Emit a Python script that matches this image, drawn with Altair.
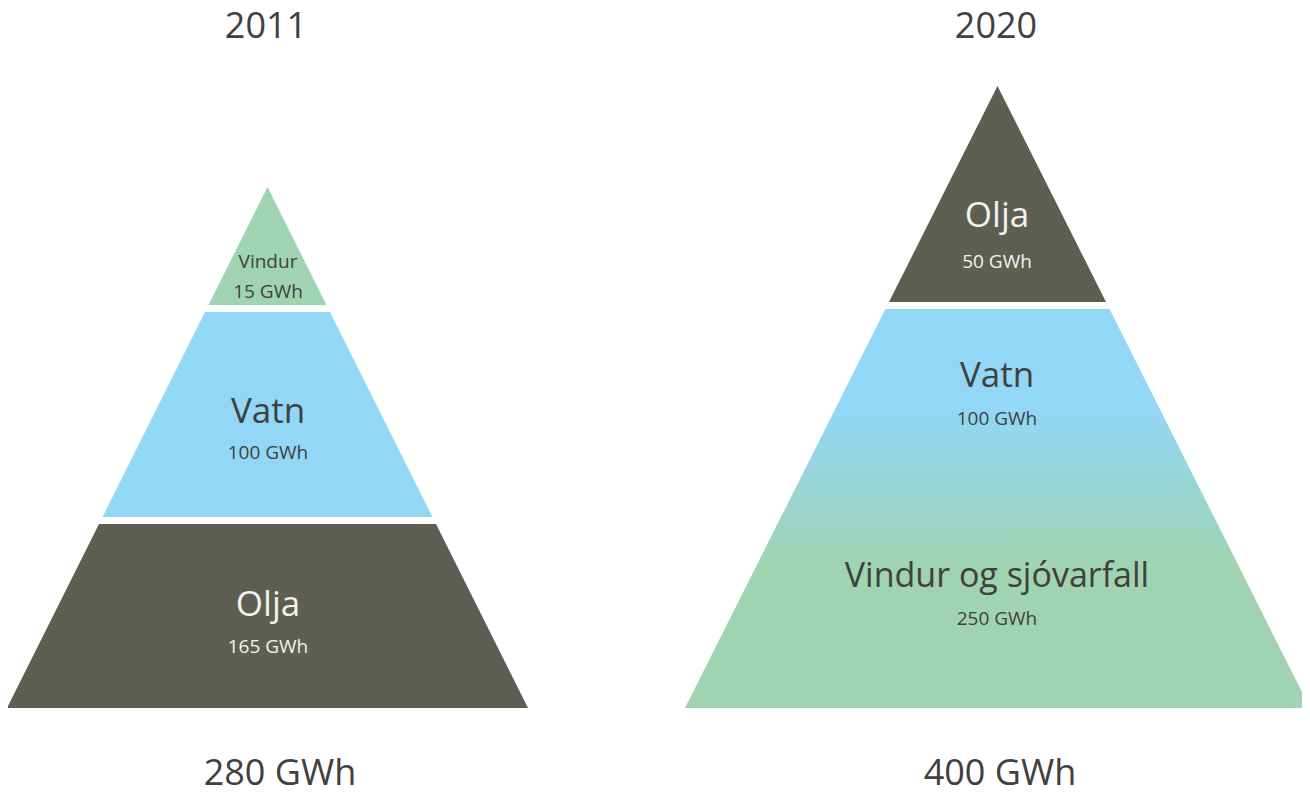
import altair as alt
import pandas as pd

# ------------------------------------------------------------------ data
years = ["2011", "2020"]
totals_gwh = [280, 400]

segments_2011 = ["Vindur", "Vatn", "Olja"]                    # top -> bottom
values_2011 = [15, 100, 165]

segments_2020 = ["Olja", "Vatn", "Vindur og sjóvarfall"]      # top -> bottom
values_2020 = [50, 100, 250]

# ------------------------------------------------------------------ styling / layout
GREEN = "#A0D3AF"
BLUE = "#92D7F5"
DARK = "#5E5E52"
TXT = "#404040"
TXT_LIGHT = "#F2F2F2"
FONT = "Open Sans"

fill_of = {"Vindur": GREEN, "Vatn": BLUE, "Olja": DARK, "Vindur og sjóvarfall": GREEN}
text_of = {"Vindur": TXT, "Vatn": TXT, "Olja": TXT_LIGHT, "Vindur og sjóvarfall": TXT}

W, H = 1294, 778          # plot area (page margin 8px), kept inside the window so the page does not scroll
DOM_X = [8, 8 + W]
DOM_Y = [8, 8 + H]

pyramids = {
    "2011": dict(cx=267.5, top=187, base=708, half=260.5),
    "2020": dict(cx=997.5, top=86, base=708, half=312.5),
}
# drawn bands (top, bottom) per pyramid, with the segments they hold
bands = {
    "2011": [(["Vindur"], 187, 305), (["Vatn"], 312, 517), (["Olja"], 524, 708)],
    "2020": [(["Olja"], 86, 302), (["Vatn", "Vindur og sjóvarfall"], 309, 708)],
}
# label baselines (name, value) and font sizes
label_pos = {
    "2011": {"Vindur": (268, 298, 19, 19), "Vatn": (423, 459, 35, 19), "Olja": (616, 653, 35, 19)},
    "2020": {"Olja": (227, 268, 35, 19), "Vatn": (387, 425, 35, 19),
             "Vindur og sjóvarfall": (587, 625, 34, 19)},
}
title_pos = {"2011": (266, 38, 280, 785), "2020": (996, 38, 1000, 785)}


def edge(p, y):
    d = p["half"] * (y - p["top"]) / (p["base"] - p["top"])
    return p["cx"] - d, p["cx"] + d


# ------------------------------------------------------------------ tables
area_rows, grad_rows = [], []
for yr in years:
    p = pyramids[yr]
    for i, (segs, y0, y1) in enumerate(bands[yr]):
        for yy in (y0, y1):
            xl, xr = edge(p, yy)
            row = dict(band=f"{yr}-{i}", y=yy, xl=xl, xr=xr, fill=fill_of[segs[0]])
            (grad_rows if len(segs) > 1 else area_rows).append(row)
areas_df = pd.DataFrame(area_rows)
grad_df = pd.DataFrame(grad_rows)

text_rows = []
for yr, segs, vals, tot in [("2011", segments_2011, values_2011, totals_gwh[0]),
                            ("2020", segments_2020, values_2020, totals_gwh[1])]:
    cx = 268 if yr == "2011" else 997
    for s, v in zip(segs, vals):
        yn, yv, fsn, fsv = label_pos[yr][s]
        text_rows.append(dict(x=cx, y=yn, t=s, fs=fsn, col=text_of[s]))
        text_rows.append(dict(x=cx, y=yv, t=f"{v} GWh", fs=fsv, col=text_of[s]))
    tx, ty, bx, by = title_pos[yr]
    text_rows.append(dict(x=tx, y=ty, t=yr, fs=36, col=TXT))
    text_rows.append(dict(x=bx, y=by, t=f"{tot} GWh", fs=36, col=TXT))
text_df = pd.DataFrame(text_rows)

xs = alt.Scale(domain=DOM_X, nice=False, zero=False)
ys = alt.Scale(domain=DOM_Y, nice=False, zero=False, reverse=True)

solid = alt.Chart(areas_df).mark_area(orient="horizontal", opacity=1).encode(
    y=alt.Y("y:Q", scale=ys, axis=None),
    x=alt.X("xl:Q", scale=xs, axis=None),
    x2="xr:Q",
    detail="band:N",
    color=alt.Color("fill:N", scale=None),
)

gradient = alt.Gradient(
    gradient="linear",
    stops=[
        alt.GradientStop(color=BLUE, offset=0),
        alt.GradientStop(color=BLUE, offset=0.26),
        alt.GradientStop(color=GREEN, offset=0.66),
        alt.GradientStop(color=GREEN, offset=1),
    ],
    x1=0, x2=0, y1=0, y2=1,
)
grad = alt.Chart(grad_df).mark_area(orient="horizontal", opacity=1, color=gradient).encode(
    y=alt.Y("y:Q", scale=ys, axis=None),
    x=alt.X("xl:Q", scale=xs, axis=None),
    x2="xr:Q",
    detail="band:N",
)

texts = alt.Chart(text_df).mark_text(font=FONT, align="center", baseline="alphabetic").encode(
    x=alt.X("x:Q", scale=xs, axis=None),
    y=alt.Y("y:Q", scale=ys, axis=None),
    text="t:N",
    size=alt.Size("fs:Q", scale=None, legend=None),
    color=alt.Color("col:N", scale=None),
)

chart = (
    alt.layer(solid, grad, texts)
    .properties(width=W, height=H, padding=0, autosize=alt.AutoSizeParams(type="none"))
    .configure_view(stroke=None)
)

chart.save("out.html", embed_options={"renderer": "svg", "actions": False})
